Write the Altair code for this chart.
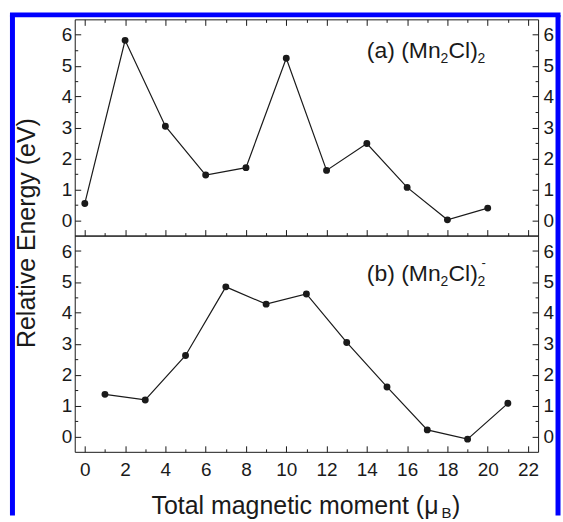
import altair as alt
import pandas as pd

# ---- data ----
moment_a = [0, 2, 4, 6, 8, 10, 12, 14, 16, 18, 20]
energy_a = [0.54, 5.82, 3.04, 1.46, 1.70, 5.24, 1.61, 2.48, 1.06, 0.01, 0.39]
moment_b = [1, 3, 5, 7, 9, 11, 13, 15, 17, 19, 21]
energy_b = [1.36, 1.18, 2.62, 4.84, 4.28, 4.61, 3.04, 1.60, 0.21, -0.09, 1.07]

x_major = [0, 2, 4, 6, 8, 10, 12, 14, 16, 18, 20, 22]
x_minor = [1, 3, 5, 7, 9, 11, 13, 15, 17, 19, 21]
y_major = [0, 1, 2, 3, 4, 5, 6]
y_minor = [0.5, 1.5, 2.5, 3.5, 4.5, 5.5]

x_title = "Total magnetic moment (μ"
y_title = "Relative Energy (eV)"

# ---- styling ----
FONT = "Liberation Sans"
INK = "#1a1a1a"
BLUE = "#0000ff"
W, H = 465, 217
XS = alt.Scale(domain=[-0.5, 22.5], nice=False, zero=False)
YS = alt.Scale(domain=[-0.5, 6.5], nice=False, zero=False)
one = pd.DataFrame({"k": [0]})


def ax(orient, values, size, labels=False, pad=0, fs=19):
    kw = dict(orient=orient, values=values, tickSize=size, offset=-size,
              domain=False, grid=False, labels=labels, title=None,
              tickColor=INK, tickWidth=1)
    if labels:
        kw.update(labelFontSize=fs, labelFont=FONT, labelColor=INK,
                  labelPadding=pad, labelAngle=0, labelOverlap=False)
    return alt.Axis(**kw)


def txt(s, xd, yd, dx=0, dy=0, size=23):
    return alt.Chart(one).mark_text(
        text=s, align="left", baseline="alphabetic", dx=dx, dy=dy,
        fontSize=size, font=FONT, color=INK
    ).encode(x=alt.X(datum=xd, scale=XS, axis=None),
             y=alt.Y(datum=yd, scale=YS, axis=None))


def ptxt(s, x, y, size=25, angle=0, align="left"):
    return alt.Chart(one).mark_text(
        text=s, align=align, baseline="alphabetic", fontSize=size, font=FONT,
        color=INK, angle=angle
    ).encode(x=alt.value(x), y=alt.value(y))


def panel(mom, en, is_top, annot):
    df = pd.DataFrame({"m": mom, "e": en})
    base = alt.Chart(df)

    def X(a):
        return alt.X("m:Q", scale=XS, axis=a)

    def Y(a):
        return alt.Y("e:Q", scale=YS, axis=a)

    line = base.mark_line(color=INK, strokeWidth=1.2).encode(
        x=X(ax("bottom", x_major, 6, labels=not is_top, pad=9)),
        y=Y(ax("left", y_major, 6, labels=True, pad=3)))
    pts = base.mark_circle(size=48, color=INK, opacity=1).encode(
        x=X(ax("bottom", x_minor, 3)),
        y=Y(ax("left", y_minor, 3)))
    c1 = base.mark_point(opacity=0).encode(
        x=X(ax("top", x_major, 6) if is_top else None),
        y=Y(ax("right", y_major, 6, labels=True, pad=5)))
    c2 = base.mark_point(opacity=0).encode(
        x=X(ax("top", x_minor, 3) if is_top else None),
        y=Y(ax("right", y_minor, 3)))
    return alt.layer(line, pts, c1, c2, *annot).resolve_axis(
        x="independent", y="independent").properties(width=W, height=H)


ann_a = [
    txt("(a) (Mn", 14.0, 5.24),
    txt("2", 14.0, 5.24, dx=74, dy=5, size=14),
    txt("Cl)", 14.0, 5.24, dx=82),
    txt("2", 14.0, 5.24, dx=111, dy=5, size=14),
]
frame = [
    alt.Chart(one).mark_rule(color=BLUE, strokeWidth=5, strokeCap="square").encode(
        x=alt.value(-62.5), x2=alt.value(485), y=alt.value(-4.5)),
    alt.Chart(one).mark_rule(color=BLUE, strokeWidth=5).encode(
        x=alt.value(-62.5), y=alt.value(-4.5), y2=alt.value(498)),
    alt.Chart(one).mark_rule(color=BLUE, strokeWidth=5).encode(
        x=alt.value(485), y=alt.value(-4.5), y2=alt.value(498)),
]
ann_b = [
    txt("(b) (Mn", 14.0, 5.04),
    txt("2", 14.0, 5.04, dx=74, dy=5, size=14),
    txt("Cl)", 14.0, 5.04, dx=82),
    txt("2", 14.0, 5.04, dx=111, dy=5, size=14),
    txt("-", 14.0, 5.04, dx=115, dy=-14, size=13),
    ptxt(y_title, -39.5, -2.5, angle=270, align="center"),
    ptxt(x_title, 77, 279),
    ptxt("B", 77 + 291, 283, size=15),
    ptxt(")", 77 + 301.5, 279),
]

top = panel(moment_a, energy_a, True, ann_a + frame)
bottom = panel(moment_b, energy_b, False, ann_b)

chart = alt.vconcat(top, bottom, spacing=0, bounds="flush").properties(
    padding={"left": 8, "top": 9.5, "right": 0, "bottom": 0},
    background="white",
).configure_view(stroke=INK, strokeWidth=1)

chart.save("out.html", embed_options={"renderer": "svg", "actions": False})
